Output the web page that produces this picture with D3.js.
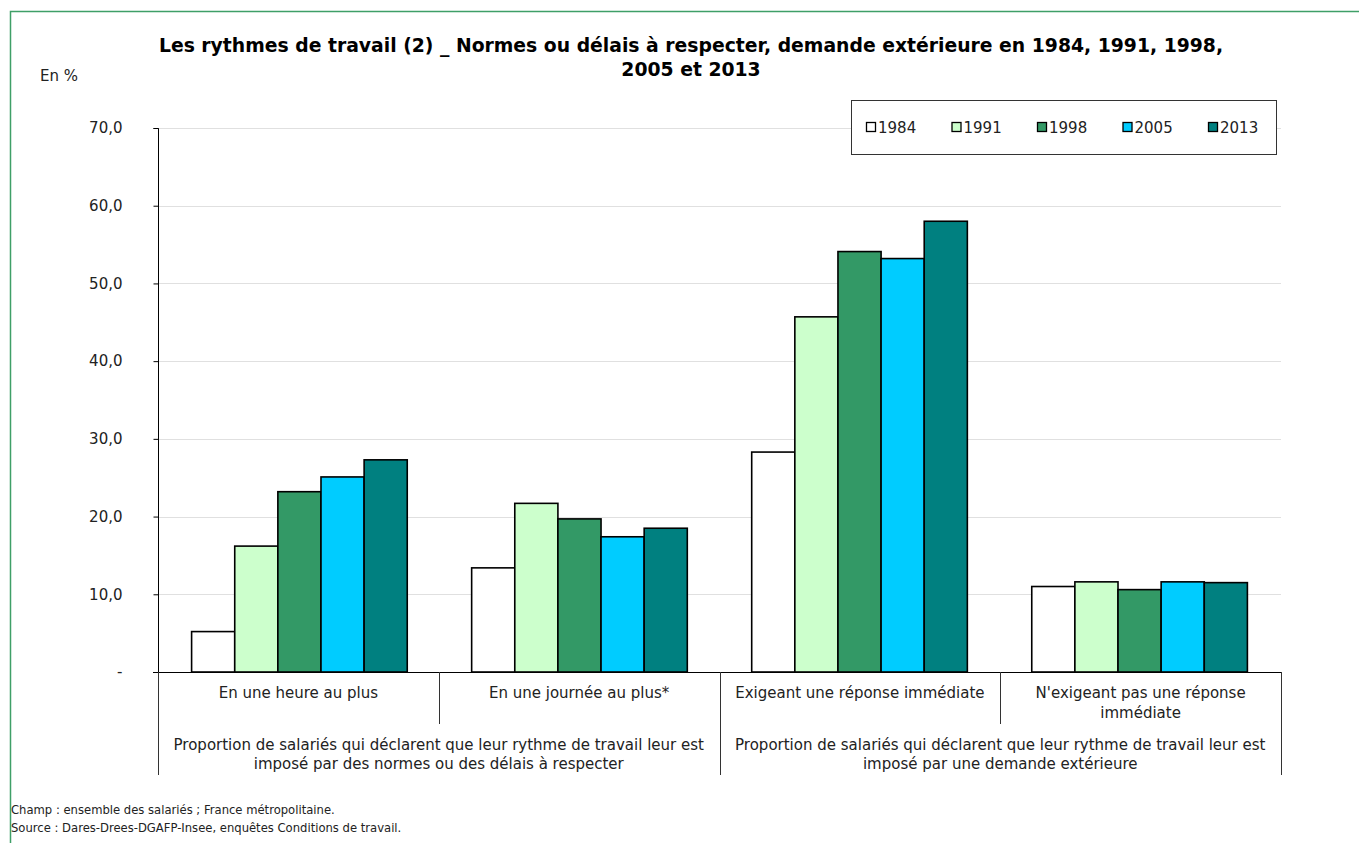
<!DOCTYPE html>
<html><head><meta charset="utf-8">
<script src="https://cdn.jsdelivr.net/npm/d3@7"></script>
<style>body{margin:0;background:#fff}svg{display:block}text{font-family:"DejaVu Sans",Tahoma,sans-serif}</style>
</head><body><svg id="c" width="1359" height="843"></svg>
<script>
const categories = ["En une heure au plus","En une journée au plus*","Exigeant une réponse immédiate","N'exigeant pas une réponse immédiate"];
const catLines = [["En une heure au plus"],["En une journée au plus*"],["Exigeant une réponse immédiate"],["N'exigeant pas une réponse","immédiate"]];
const groups = [["Proportion de salariés qui déclarent que leur rythme de travail leur est","imposé par des normes ou des délais à respecter"],["Proportion de salariés qui déclarent que leur rythme de travail leur est","imposé par une demande extérieure"]];
const years = ["1984","1991","1998","2005","2013"];
const colors = ["#ffffff","#ccffcc","#339966","#00ccff","#008080"];
const v1984 = [5.2,13.4,28.3,11.0];
const v1991 = [16.2,21.7,45.7,11.6];
const v1998 = [23.2,19.7,54.1,10.6];
const v2005 = [25.1,17.4,53.2,11.6];
const v2013 = [27.3,18.5,58.0,11.5];
const yTicks = [0,10,20,30,40,50,60,70];
const series = [v1984,v1991,v1998,v2005,v2013];

const svg = d3.select("#c");
const L=158,R=1281,T=128,B=672;
const x0 = d3.scaleBand().domain(categories).range([L,R]).paddingInner(0.23).paddingOuter(0.12);
const xb = d3.scaleBand().domain(categories).range([L,R]);
const x1 = d3.scaleBand().domain(years).range([0,x0.bandwidth()]);
const y = d3.scaleLinear().domain([0,70]).range([B,T]);

// border
svg.append("path").attr("d",`M10.5,843 V11.5 H1359`).attr("fill","none").attr("stroke","#3f9f67").attr("stroke-width",1.5);

// grid
svg.append("g").selectAll("line").data(yTicks.filter(d=>d>0)).join("line")
 .attr("x1",L).attr("x2",R).attr("y1",d=>Math.round(y(d))+0.5).attr("y2",d=>Math.round(y(d))+0.5)
 .attr("stroke","#e0e0e0").attr("stroke-width",1);

// y axis
const ya = svg.append("g").attr("transform",`translate(${L+0.5},0)`)
 .call(d3.axisLeft(y).tickValues(yTicks).tickSize(5).tickPadding(31).tickFormat(d=>d===0?"-":d.toFixed(1).replace(".",",")));
ya.select(".domain").attr("stroke","#000").attr("d",`M-5,${T+0.5}H0V${B}`);
ya.selectAll(".tick line").attr("stroke","#000");
ya.selectAll(".tick text").attr("font-size",15).attr("fill","#222").style("font-family","'DejaVu Sans',Tahoma,sans-serif");

// bars
const gb = svg.append("g");
categories.forEach((c,ci)=>{
  years.forEach((yr,si)=>{
    const v = series[si][ci];
    gb.append("rect").attr("x",x0(c)+x1(yr)).attr("y",y(v)).attr("width",x1.bandwidth()).attr("height",B-y(v))
     .attr("fill",colors[si]).attr("stroke","#000").attr("stroke-width",1.6);
  });
});

// x axis line
svg.append("line").attr("x1",L-5).attr("x2",R).attr("y1",B+0.5).attr("y2",B+0.5).attr("stroke","#000").attr("stroke-width",1.2);
// separators
const ga = svg.append("g").attr("stroke","#333").attr("stroke-width",1);
[categories[1],categories[3]].forEach(c=>ga.append("line").attr("x1",Math.round(xb(c))+0.5).attr("x2",Math.round(xb(c))+0.5).attr("y1",B).attr("y2",724));
[L,xb(categories[2]),R].forEach(px=>ga.append("line").attr("x1",Math.round(px)+0.5).attr("x2",Math.round(px)+0.5).attr("y1",B).attr("y2",775));

// category labels
categories.forEach((c,ci)=>{
  catLines[ci].forEach((ln,li)=>svg.append("text").attr("x",xb(c)+xb.bandwidth()/2).attr("y",698+li*20)
   .attr("text-anchor","middle").attr("font-size",15).attr("fill","#222").text(ln));
});
groups.forEach((g,gi)=>{
  const cx = gi===0 ? (L+xb(categories[2]))/2 : (xb(categories[2])+R)/2;
  g.forEach((ln,li)=>svg.append("text").attr("x",cx).attr("y",750+li*19).attr("text-anchor","middle").attr("font-size",15).attr("fill","#222").text(ln));
});

// title
svg.append("text").attr("x",691).attr("y",52).attr("text-anchor","middle").attr("font-size",18.8).attr("font-weight","bold").attr("fill","#000")
 .text("Les rythmes de travail (2) _ Normes ou délais à respecter, demande extérieure en 1984, 1991, 1998,");
svg.append("text").attr("x",691).attr("y",76).attr("text-anchor","middle").attr("font-size",18.8).attr("font-weight","bold").attr("fill","#000")
 .text("2005 et 2013");
svg.append("text").attr("x",40).attr("y",81).attr("font-size",15).attr("fill","#222").text("En %");

// legend
svg.append("rect").attr("x",851.5).attr("y",100.5).attr("width",425).attr("height",54).attr("fill","#fff").attr("stroke","#333").attr("stroke-width",1);
years.forEach((yr,i)=>{
  const lx = 866 + i*85.5;
  svg.append("rect").attr("x",lx+0.5).attr("y",122.5).attr("width",9).attr("height",9).attr("fill",colors[i]).attr("stroke","#000").attr("stroke-width",1.3);
  svg.append("text").attr("x",lx+12).attr("y",133).attr("font-size",15).attr("fill","#222").text(yr);
});

// footer
svg.append("text").attr("x",11).attr("y",814).attr("font-size",11.6).attr("fill","#222").text("Champ : ensemble des salariés ; France métropolitaine.");
svg.append("text").attr("x",11).attr("y",832).attr("font-size",11.6).attr("fill","#222").text("Source : Dares-Drees-DGAFP-Insee, enquêtes Conditions de travail.");
</script></body></html>
